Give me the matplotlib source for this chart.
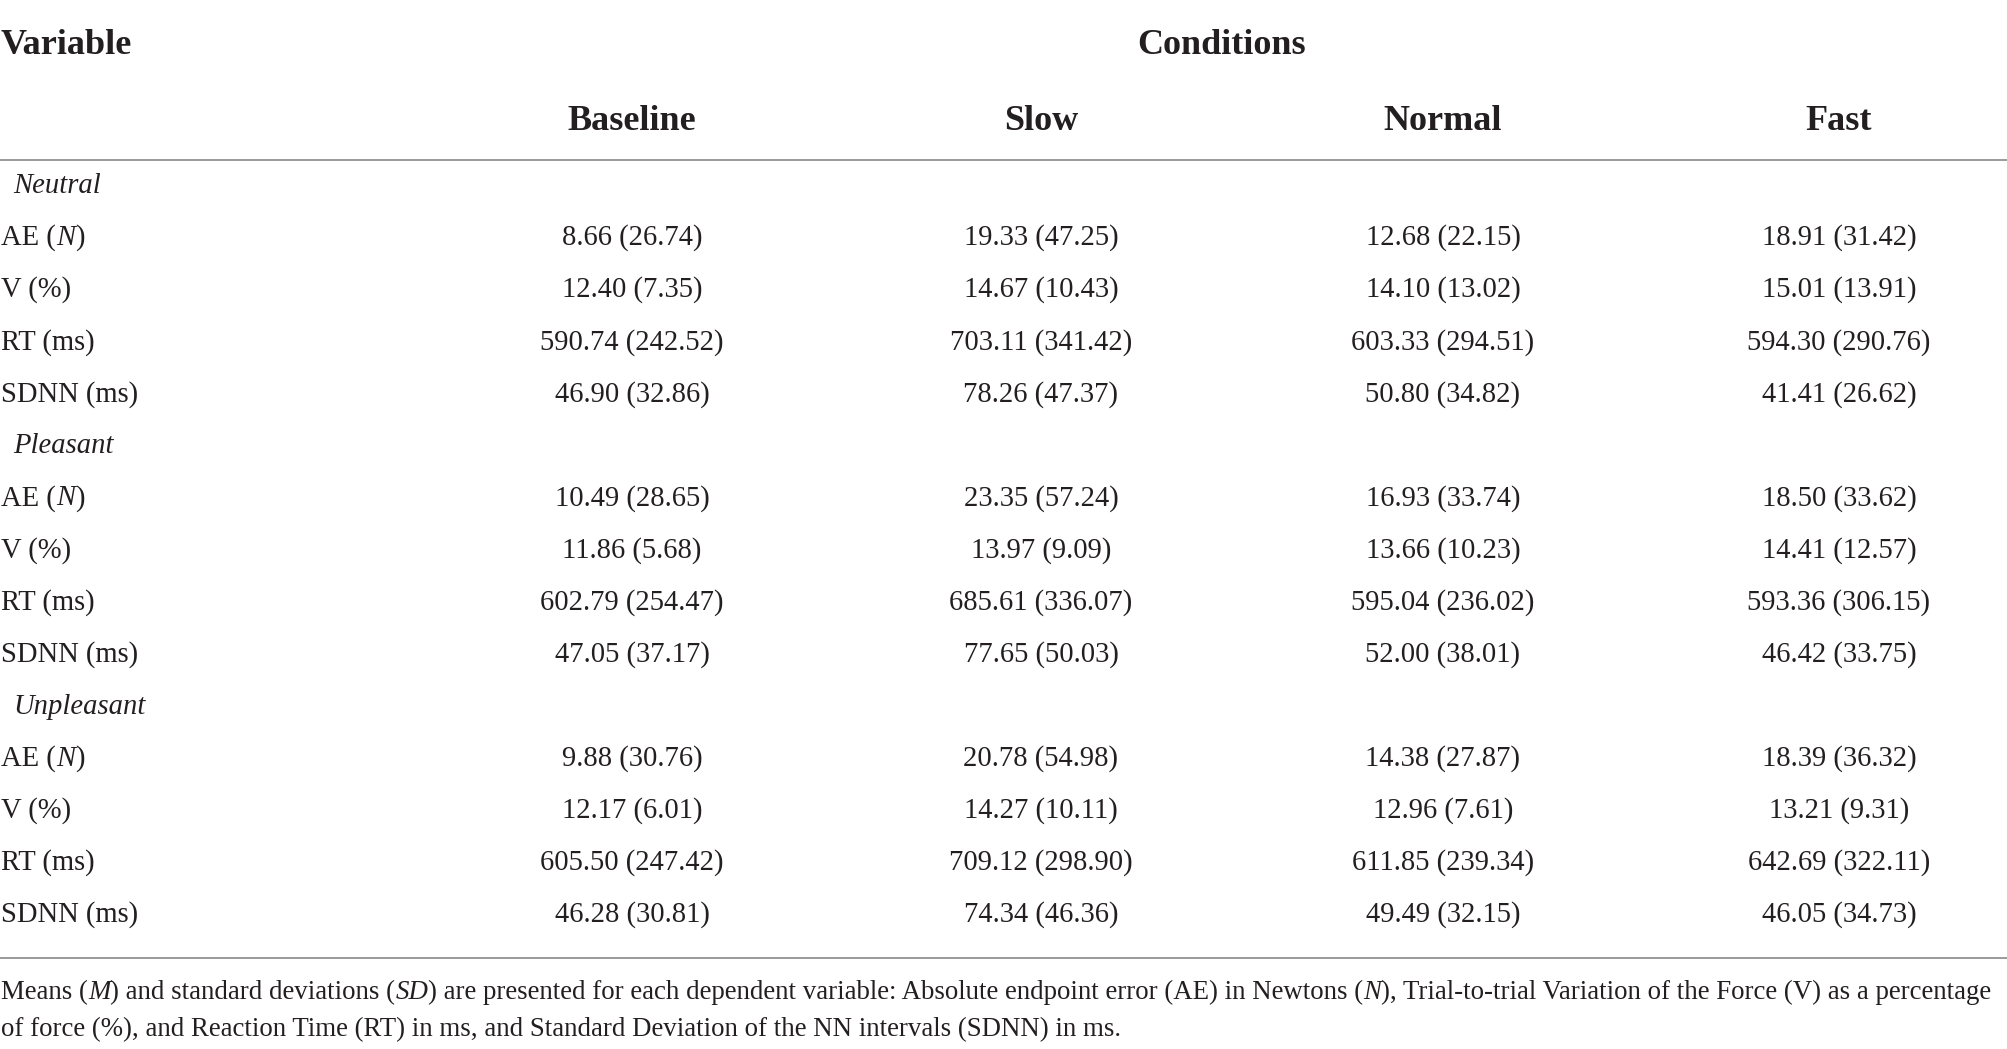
import matplotlib
matplotlib.use("Agg")
import matplotlib.pyplot as plt

# ---------------- data ----------------
conditions = ["Baseline", "Slow", "Normal", "Fast"]
groups = ["Neutral", "Pleasant", "Unpleasant"]
var_names = ["AE", "V", "RT", "SDNN"]
var_units = ["N", "%", "ms", "ms"]
unit_italic = [True, False, False, False]

neutral_means = [[8.66, 19.33, 12.68, 18.91], [12.40, 14.67, 14.10, 15.01],
                 [590.74, 703.11, 603.33, 594.30], [46.90, 78.26, 50.80, 41.41]]
neutral_sds = [[26.74, 47.25, 22.15, 31.42], [7.35, 10.43, 13.02, 13.91],
               [242.52, 341.42, 294.51, 290.76], [32.86, 47.37, 34.82, 26.62]]
pleasant_means = [[10.49, 23.35, 16.93, 18.50], [11.86, 13.97, 13.66, 14.41],
                  [602.79, 685.61, 595.04, 593.36], [47.05, 77.65, 52.00, 46.42]]
pleasant_sds = [[28.65, 57.24, 33.74, 33.62], [5.68, 9.09, 10.23, 12.57],
                [254.47, 336.07, 236.02, 306.15], [37.17, 50.03, 38.01, 33.75]]
unpleasant_means = [[9.88, 20.78, 14.38, 18.39], [12.17, 14.27, 12.96, 13.21],
                    [605.50, 709.12, 611.85, 642.69], [46.28, 74.34, 49.49, 46.05]]
unpleasant_sds = [[30.76, 54.98, 27.87, 36.32], [6.01, 10.11, 7.61, 9.31],
                  [247.42, 298.90, 239.34, 322.11], [30.81, 46.36, 32.15, 34.73]]

group_means = [neutral_means, pleasant_means, unpleasant_means]
group_sds = [neutral_sds, pleasant_sds, unpleasant_sds]

footnote_line1 = [("Means (", "normal"), ("M", "italic"), (") and standard deviations (", "normal"),
                  ("SD", "italic"),
                  (") are presented for each dependent variable: Absolute endpoint error (AE) in Newtons (", "normal"),
                  ("N", "italic"), ("), Trial-to-trial Variation of the Force (V) as a percentage", "normal")]
footnote_line2 = [("of force (%), and Reaction Time (RT) in ms, and Standard Deviation of the NN intervals (SDNN) in ms.", "normal")]

# ---------------- layout ----------------
W, H = 2008, 1049
FONT = "Liberation Serif"
TXT = "#231f20"
LINE = "#9a9a9a"
BODY = 20.6
HEAD = 26

col_x = [632, 1041, 1443, 1839]

fig = plt.figure(figsize=(W / 100, H / 100), dpi=100)
ax = fig.add_axes([0, 0, 1, 1])
ax.set_xlim(0, W)
ax.set_ylim(H, 0)
ax.axis("off")
renderer = fig.canvas.get_renderer()


def text_width(s, size, style="normal", weight="normal"):
    def w(t):
        tt = ax.text(0, 0, t, fontsize=size, family=FONT, style=style, weight=weight)
        e = tt.get_window_extent(renderer).width
        tt.remove()
        return e
    return w("l" + s + "l") - w("ll")


def runs_width(runs, size):
    return sum(text_width(s, size, style=st) for s, st in runs)


def draw_runs(x, y, runs, size):
    for s, st in runs:
        ax.text(x, y, s, fontsize=size, family=FONT, style=st, color=TXT,
                ha="left", va="baseline")
        x += text_width(s, size, style=st)


# footnote size: first line spans the full width as in the reference
FOOT = 18.0 * 2003 / runs_width(footnote_line1, 18.0)

# header
ax.text(1, 54, "Variable", fontsize=HEAD, family=FONT, weight="bold", color=TXT,
        ha="left", va="baseline")
ax.text(1222, 54, "Conditions", fontsize=HEAD, family=FONT, weight="bold", color=TXT,
        ha="center", va="baseline")
for cx, c in zip(col_x, conditions):
    ax.text(cx, 130, c, fontsize=HEAD, family=FONT, weight="bold", color=TXT,
            ha="center", va="baseline")

ax.plot([0, W], [160, 160], color=LINE, lw=1.4, solid_capstyle="butt")

# body
row = 0
step = 52.07
base0 = 193
for g, name in enumerate(groups):
    y = base0 + row * step
    ax.text(13, y, name, fontsize=BODY, family=FONT, style="italic", color=TXT,
            ha="left", va="baseline")
    row += 1
    for v in range(len(var_names)):
        y = base0 + row * step
        if unit_italic[v]:
            runs = [(var_names[v] + " (", "normal"), (var_units[v], "italic"), (")", "normal")]
        else:
            runs = [(var_names[v] + " (" + var_units[v] + ")", "normal")]
        draw_runs(1, y, runs, BODY)
        for c in range(len(conditions)):
            m = group_means[g][v][c]
            s = group_sds[g][v][c]
            ax.text(col_x[c], y, f"{m:.2f} ({s:.2f})", fontsize=BODY, family=FONT,
                    color=TXT, ha="center", va="baseline")
        row += 1

ax.plot([0, W], [958, 958], color=LINE, lw=1.4, solid_capstyle="butt")

# footnote
draw_runs(1, 999, footnote_line1, FOOT)
draw_runs(1, 1036, footnote_line2, FOOT)

fig.savefig("out.png", dpi=100, facecolor="white")
